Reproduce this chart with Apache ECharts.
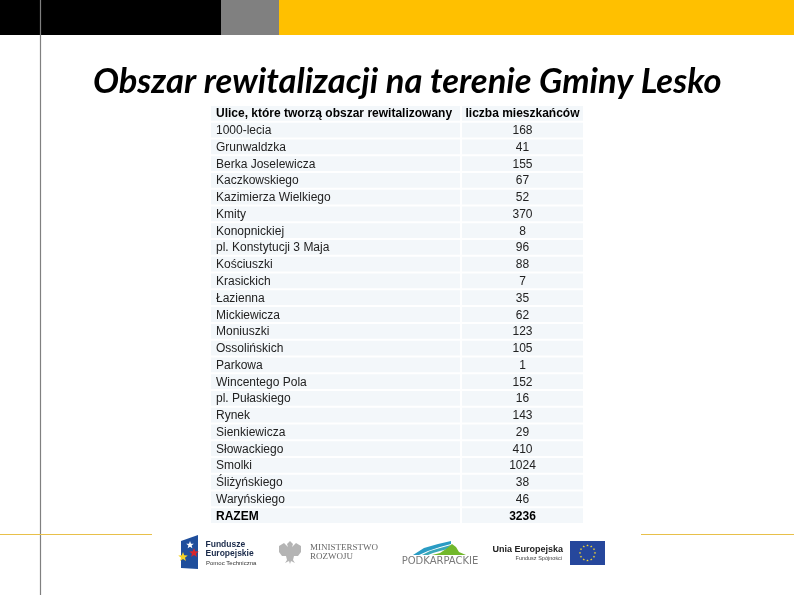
<!DOCTYPE html>
<html style="height: 100%">
<head>
<meta charset="utf-8">
<script src="https://cdn.jsdelivr.net/npm/echarts@6/dist/echarts.min.js"></script>
</head>
<body style="height: 100%; margin: 0; background: #fff">
<div id="container" style="width: 794px; height: 595px"></div>
<script type="text/javascript">
var titleText = 'Obszar rewitalizacji na terenie Gminy Lesko';
var headerStreet = 'Ulice, które tworzą obszar rewitalizowany';
var headerCount = 'liczba mieszkańców';
var totalLabel = 'RAZEM';
var streets = ['1000-lecia', 'Grunwaldzka', 'Berka Joselewicza', 'Kaczkowskiego', 'Kazimierza Wielkiego',
    'Kmity', 'Konopnickiej', 'pl. Konstytucji 3 Maja', 'Kościuszki', 'Krasickich', 'Łazienna', 'Mickiewicza',
    'Moniuszki', 'Ossolińskich', 'Parkowa', 'Wincentego Pola', 'pl. Pułaskiego', 'Rynek', 'Sienkiewicza',
    'Słowackiego', 'Smolki', 'Śliżyńskiego', 'Waryńskiego'];
var residents = [168, 41, 155, 67, 52, 370, 8, 96, 88, 7, 35, 62, 123, 105, 1, 152, 16, 143, 29, 410, 1024, 38, 46];
var totalResidents = 3236;

var rowNames = [headerStreet].concat(streets, [totalLabel]);
var countCells = [headerCount].concat(residents, [totalResidents]);
var lastRow = rowNames.length - 1;

var dom = document.getElementById('container');
var myChart = echarts.init(dom);

// one table column = one custom series on its own grid, rows come from the category axis
function tableColumn(gridIndex, labels, align) {
    return {
        type: 'custom',
        xAxisIndex: gridIndex,
        yAxisIndex: gridIndex,
        silent: true,
        data: labels.map(function (t, i) { return [0, i]; }),
        renderItem: function (params, api) {
            var p = api.coord([0, api.value(1)]);
            var s = api.size([0, 1]);
            var i = params.dataIndex;
            var bold = i === 0 || i === lastRow;
            return {
                type: 'group',
                children: [{
                    type: 'rect',
                    shape: { x: p[0] - s[0] / 2, y: p[1] - s[1] / 2 + 1, width: s[0], height: s[1] - 2 },
                    style: { fill: '#f3f7fa' }
                }, {
                    type: 'text',
                    style: {
                        x: align === 'left' ? p[0] - s[0] / 2 + 5 : p[0],
                        y: p[1] + 0.7,
                        text: String(labels[i]),
                        align: align,
                        verticalAlign: 'middle',
                        fill: bold ? '#000' : '#222',
                        font: (bold ? 'bold ' : '') + '12px "Liberation Sans"'
                    }
                }]
            };
        }
    };
}

function hiddenAxis(gridIndex, data, inverse) {
    return { type: 'category', gridIndex: gridIndex, data: data, show: false, inverse: inverse };
}

// the graphic component has no star shape, so build one as a polygon
function star(cx, cy, r, fill) {
    var pts = [];
    for (var n = 0; n < 10; n++) {
        var rr = n % 2 ? r * 0.42 : r;
        var ang = n * Math.PI / 5;
        pts.push([cx + rr * Math.sin(ang), cy - rr * Math.cos(ang)]);
    }
    return { type: 'polygon', shape: { points: pts }, style: { fill: fill } };
}

// slide furniture and logos
var deco = [
    { type: 'rect', shape: { x: 0, y: 0, width: 221, height: 35 }, style: { fill: '#000' } },
    { type: 'rect', shape: { x: 221, y: 0, width: 58, height: 35 }, style: { fill: '#808080' } },
    { type: 'rect', shape: { x: 279, y: 0, width: 515, height: 35 }, style: { fill: '#ffc000' } },
    { type: 'line', shape: { x1: 40.5, y1: 0, x2: 40.5, y2: 595 }, style: { stroke: '#808080', lineWidth: 1.2 } },
    { type: 'line', shape: { x1: 0, y1: 534.5, x2: 152, y2: 534.5 }, style: { stroke: '#e8c04a', lineWidth: 1 } },
    { type: 'line', shape: { x1: 641, y1: 534.5, x2: 794, y2: 534.5 }, style: { stroke: '#e8c04a', lineWidth: 1 } },

    // Fundusze Europejskie
    { type: 'polygon', shape: { points: [[181, 541], [198, 535], [198, 569], [181, 568]] }, style: { fill: '#1f4e9c' } },
    star(190, 545, 4, '#fff'),
    star(194, 553, 5, '#d8262c'),
    star(183, 557, 5, '#f5d327'),
    { type: 'text', style: { x: 205.5, y: 545, text: 'Fundusze', font: 'bold 8.5px "Liberation Sans"', fill: '#1a2a4a', verticalAlign: 'middle' } },
    { type: 'text', style: { x: 205.5, y: 553.5, text: 'Europejskie', font: 'bold 8.5px "Liberation Sans"', fill: '#1a2a4a', verticalAlign: 'middle' } },
    { type: 'text', style: { x: 206, y: 563, text: 'Pomoc Techniczna', font: '6px "Liberation Sans"', fill: '#333', verticalAlign: 'middle' } },

    // eagle, Ministerstwo Rozwoju
    { type: 'polygon', shape: { points: [[290, 541], [293, 544], [292, 547], [296, 543], [301, 546], [301, 552], [298, 556], [294, 556], [293, 560], [295, 563], [291, 561], [290, 564], [289, 561], [285, 563], [287, 560], [286, 556], [282, 556], [279, 552], [279, 546], [284, 543], [288, 547], [287, 544]] }, style: { fill: '#b4b4b4' } },
    { type: 'text', style: { x: 310, y: 548, text: 'MINISTERSTWO', font: '9px "Liberation Serif"', fill: '#666', verticalAlign: 'middle' } },
    { type: 'text', style: { x: 310, y: 557, text: 'ROZWOJU', font: '9px "Liberation Serif"', fill: '#666', verticalAlign: 'middle' } },

    // Podkarpackie
    { type: 'polygon', shape: { points: [[413, 555], [424, 548], [438, 544], [451, 541], [451, 544], [440, 547], [428, 551], [419, 555]] }, style: { fill: '#2a9cc4' } },
    { type: 'polygon', shape: { points: [[422, 555], [430, 551], [440, 548], [451, 545], [448, 549], [440, 551], [433, 553], [428, 555]] }, style: { fill: '#3aa8b8' } },
    { type: 'polygon', shape: { points: [[432, 555], [440, 553], [446, 549], [452, 544], [456, 547], [459, 552], [466, 555]] }, style: { fill: '#72b82c' } },
    { type: 'text', style: { x: 440, y: 561.5, text: 'PODKARPACKIE', font: '10px "DejaVu Sans"', fill: '#7a7a7a', align: 'center', verticalAlign: 'middle' } },

    // Unia Europejska
    { type: 'text', style: { x: 563, y: 549.5, text: 'Unia Europejska', font: 'bold 9px "Liberation Sans"', fill: '#222', align: 'right', verticalAlign: 'middle' } },
    { type: 'text', style: { x: 562, y: 558, text: 'Fundusz Spójności', font: '5.5px "Liberation Sans"', fill: '#444', align: 'right', verticalAlign: 'middle' } },
    { type: 'rect', shape: { x: 570, y: 541, width: 35, height: 24 }, style: { fill: '#26479c' } }
];
for (var k = 0; k < 12; k++) {
    var a = k * Math.PI / 6;
    deco.push(star(587.5 + 7.5 * Math.sin(a), 553 - 7.5 * Math.cos(a), 1.3, '#f4d530'));
}

var option = {
    animation: false,
    backgroundColor: '#fff',
    title: {
        text: titleText,
        left: 93,
        top: 64,
        padding: 0,
        textStyle: { fontFamily: 'Lato', fontStyle: 'italic', fontWeight: 'bold', fontSize: 34.5, color: '#000' }
    },
    graphic: deco,
    grid: [
        { left: 211, width: 249, top: 105, height: 419 },
        { left: 462, width: 121, top: 105, height: 419 }
    ],
    xAxis: [hiddenAxis(0, ['ulica'], false), hiddenAxis(1, ['mieszkańcy'], false)],
    yAxis: [hiddenAxis(0, rowNames, true), hiddenAxis(1, rowNames, true)],
    series: [tableColumn(0, rowNames, 'left'), tableColumn(1, countCells, 'center')]
};

if (option && typeof option === 'object') {
    myChart.setOption(option, true);
}
</script>
</body>
</html>
